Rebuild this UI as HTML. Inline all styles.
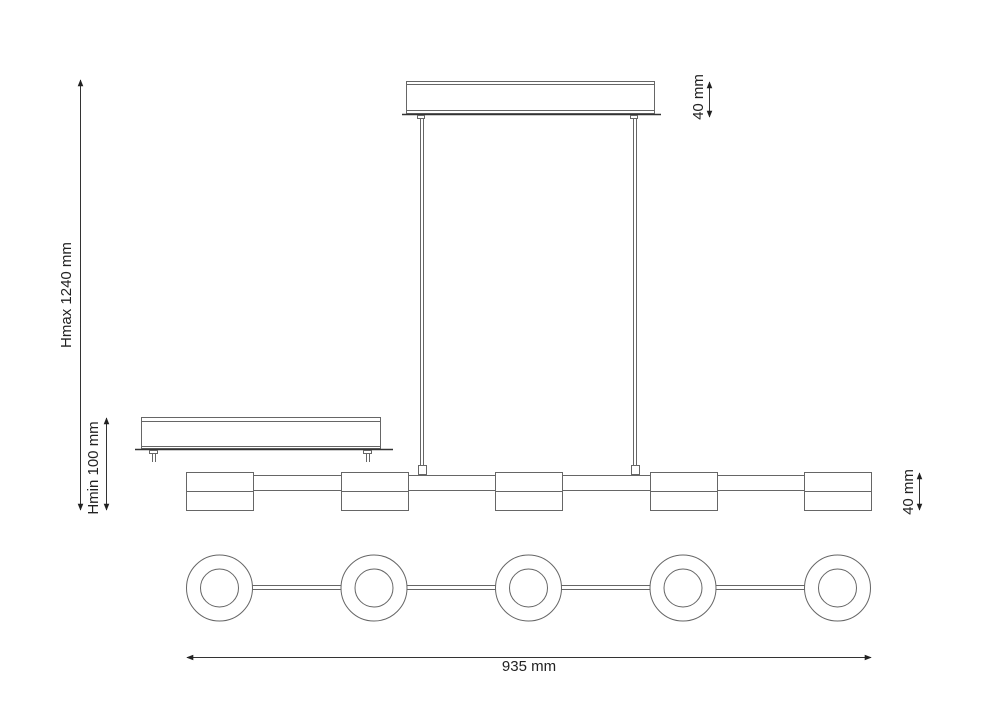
<!DOCTYPE html>
<html><head><meta charset="utf-8"><style>
html,body{margin:0;padding:0;background:#fff;}
svg{display:block;}
text{font-family:"Liberation Sans",Arial,sans-serif;font-size:15px;fill:#222;}
</style></head><body>
<svg width="1000" height="706" viewBox="0 0 1000 706" xmlns="http://www.w3.org/2000/svg">
<defs>
<marker id="a" viewBox="0 0 10 10" refX="9" refY="5" markerWidth="7" markerHeight="7" orient="auto-start-reverse"><path d="M0,1 L10,5 L0,9 z" fill="#222"/></marker>
</defs>
<g fill="none" stroke="#666" stroke-width="1">
<rect x="406.5" y="81.5" width="248" height="32"/>
<line x1="406" y1="84.5" x2="654" y2="84.5"/>
<line x1="406" y1="110.5" x2="654" y2="110.5"/>
<line x1="402" y1="114.5" x2="661" y2="114.5" stroke="#333" stroke-width="1.5"/>
<rect x="417.5" y="115.5" width="7" height="3"/>
<rect x="630.5" y="115.5" width="7" height="3"/>
<line x1="420.5" y1="118" x2="420.5" y2="465"/>
<line x1="423.5" y1="118" x2="423.5" y2="465"/>
<line x1="633.5" y1="118" x2="633.5" y2="465"/>
<line x1="636.5" y1="118" x2="636.5" y2="465"/>
<rect x="418.5" y="465.5" width="8" height="9"/>
<rect x="631.5" y="465.5" width="8" height="9"/>
<rect x="141.5" y="417.5" width="239" height="31"/>
<line x1="141" y1="421.5" x2="380" y2="421.5"/>
<line x1="141" y1="446.5" x2="380" y2="446.5"/>
<line x1="135" y1="449.5" x2="393" y2="449.5" stroke="#333" stroke-width="1.5"/>
<rect x="149.5" y="450.5" width="8" height="3"/>
<rect x="363.5" y="450.5" width="8" height="3"/>
<line x1="152.5" y1="454" x2="152.5" y2="462"/><line x1="155.5" y1="454" x2="155.5" y2="462"/>
<line x1="366.5" y1="454" x2="366.5" y2="462"/><line x1="369.5" y1="454" x2="369.5" y2="462"/>
<line x1="253" y1="475.5" x2="804" y2="475.5"/>
<line x1="253" y1="490.5" x2="804" y2="490.5"/>
<g fill="#fff">
<rect x="186.5" y="472.5" width="67" height="38"/>
<rect x="341.5" y="472.5" width="67" height="38"/>
<rect x="495.5" y="472.5" width="67" height="38"/>
<rect x="650.5" y="472.5" width="67" height="38"/>
<rect x="804.5" y="472.5" width="67" height="38"/>
</g>
<line x1="186" y1="491.5" x2="253" y2="491.5"/>
<line x1="341" y1="491.5" x2="408" y2="491.5"/>
<line x1="495" y1="491.5" x2="562" y2="491.5"/>
<line x1="650" y1="491.5" x2="717" y2="491.5"/>
<line x1="804" y1="491.5" x2="871" y2="491.5"/>
<line x1="252" y1="585.5" x2="807" y2="585.5"/>
<line x1="252" y1="589.5" x2="807" y2="589.5"/>
<g fill="#fff">
<circle cx="219.5" cy="588" r="33"/><circle cx="374" cy="588" r="33"/><circle cx="528.5" cy="588" r="33"/><circle cx="683" cy="588" r="33"/><circle cx="837.5" cy="588" r="33"/>
</g>
<circle cx="219.5" cy="588" r="19"/><circle cx="374" cy="588" r="19"/><circle cx="528.5" cy="588" r="19"/><circle cx="683" cy="588" r="19"/><circle cx="837.5" cy="588" r="19"/>
</g>
<g stroke="#333" stroke-width="1" fill="none">
<line x1="187" y1="657.5" x2="871" y2="657.5" marker-start="url(#a)" marker-end="url(#a)"/>
<line x1="80.5" y1="80" x2="80.5" y2="510" marker-start="url(#a)" marker-end="url(#a)"/>
<line x1="106.5" y1="418" x2="106.5" y2="510" marker-start="url(#a)" marker-end="url(#a)"/>
<line x1="709.5" y1="82" x2="709.5" y2="117" marker-start="url(#a)" marker-end="url(#a)"/>
<line x1="919.5" y1="473" x2="919.5" y2="510" marker-start="url(#a)" marker-end="url(#a)"/>
</g>
<text x="529" y="671" text-anchor="middle">935 mm</text>
<text transform="translate(71,295) rotate(-90)" text-anchor="middle">Hmax 1240 mm</text>
<text transform="translate(98,468) rotate(-90)" text-anchor="middle">Hmin 100 mm</text>
<text transform="translate(703,97) rotate(-90)" text-anchor="middle">40 mm</text>
<text transform="translate(913,492) rotate(-90)" text-anchor="middle">40 mm</text>
</svg>
</body></html>
